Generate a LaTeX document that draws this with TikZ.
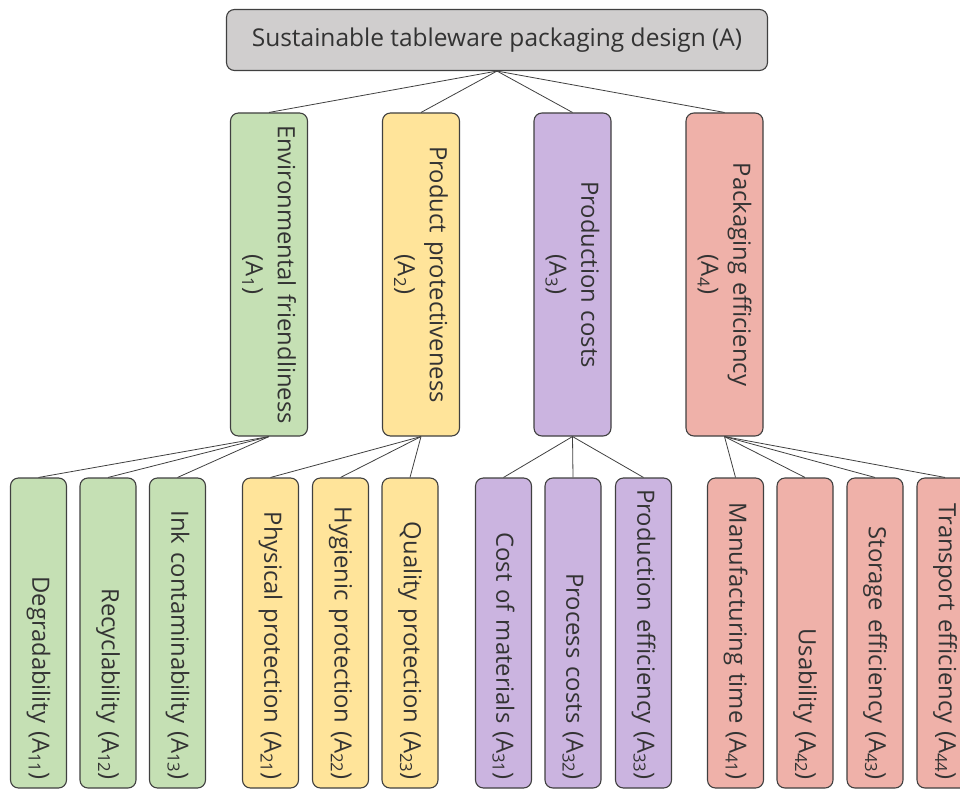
\documentclass[tikz,border=0pt]{standalone}
\usepackage{fontspec}
\setmainfont{Open Sans}
\usepackage{tikz}
\usetikzlibrary{positioning}
\usepackage{xcolor}
\definecolor{boxline}{HTML}{404040}
\definecolor{txtgray}{HTML}{333333}
\definecolor{topgray}{HTML}{D0CECE}
\definecolor{envgreen}{HTML}{C5E0B4}
\definecolor{protyellow}{HTML}{FFE49A}
\definecolor{costpurple}{HTML}{CBB4E0}
\definecolor{effred}{HTML}{EFB1A9}
\newcommand{\idx}[1]{\textsubscript{#1}}

\begin{document}
\begin{tikzpicture}[x=1pt, y=-1pt, text=txtgray, font=\fontsize{23.8}{32}\selectfont,
  goal/.style={draw=boxline, line width=1.1pt, fill=topgray, rounded corners=8pt,
    minimum width=541pt, minimum height=61pt, font=\fontsize{24.5}{29}\selectfont},
  crit/.style={draw=boxline, line width=1.1pt, rounded corners=8pt, rotate=-90,
    minimum width=323pt, minimum height=77pt, text width=310pt, align=center},
  leaf/.style={draw=boxline, line width=1.1pt, rounded corners=8pt, rotate=-90,
    inner xsep=8pt, minimum width=310pt, minimum height=56pt, text width=294pt, align=right},
  link/.style={draw=boxline, line width=0.8pt}]
  \useasboundingbox (0,0) rectangle (960,789);
  % Goal
  \node[goal] (top) at (497,40) {Sustainable tableware packaging design (A)};
  % Criteria (rotated: west = upper end, east = lower end)
  \node[crit, fill=envgreen]   (a1) at (269,274.5)   {Environmental friendliness\\(A\idx{1})};
  \node[crit, fill=protyellow] (a2) at (421,274.5)   {Product protectiveness\\(A\idx{2})};
  \node[crit, fill=costpurple] (a3) at (572.5,274.5) {Production costs\\(A\idx{3})};
  \node[crit, fill=effred]     (a4) at (724.5,274.5) {Packaging efficiency\\(A\idx{4})};
  % Sub-criteria of A1
  \node[leaf, fill=envgreen] (a11) at (38.5,633)  {Degradability (A\idx{11})};
  \node[leaf, fill=envgreen] (a12) at (108,633)   {Recyclability (A\idx{12})};
  \node[leaf, fill=envgreen] (a13) at (177.5,633) {Ink contaminability (A\idx{13})};
  % Sub-criteria of A2
  \node[leaf, fill=protyellow] (a21) at (270.5,633) {Physical protection (A\idx{21})};
  \node[leaf, fill=protyellow] (a22) at (340.5,633) {Hygienic protection (A\idx{22})};
  \node[leaf, fill=protyellow] (a23) at (410,633)   {Quality protection (A\idx{23})};
  % Sub-criteria of A3
  \node[leaf, fill=costpurple] (a31) at (503.5,633) {Cost of materials (A\idx{31})};
  \node[leaf, fill=costpurple] (a32) at (573,633)   {Process costs (A\idx{32})};
  \node[leaf, fill=costpurple] (a33) at (643.5,633) {Production efficiency (A\idx{33})};
  % Sub-criteria of A4
  \node[leaf, fill=effred] (a41) at (735.5,633) {Manufacturing time (A\idx{41})};
  \node[leaf, fill=effred] (a42) at (805,633)   {Usability (A\idx{42})};
  \node[leaf, fill=effred] (a43) at (875,633)   {Storage efficiency (A\idx{43})};
  \node[leaf, fill=effred] (a44) at (945,633)   {Transport efficiency (A\idx{44})};
  % Links
  \draw[link] (top.south) -- (a1.west);
  \draw[link] (top.south) -- (a2.west);
  \draw[link] (top.south) -- (a3.west);
  \draw[link] (top.south) -- (a4.west);
  \draw[link] (a1.east) -- (a11.west);
  \draw[link] (a1.east) -- (a12.west);
  \draw[link] (a1.east) -- (a13.west);
  \draw[link] (a2.east) -- (a21.west);
  \draw[link] (a2.east) -- (a22.west);
  \draw[link] (a2.east) -- (a23.west);
  \draw[link] (a3.east) -- (a31.west);
  \draw[link] (a3.east) -- (a32.west);
  \draw[link] (a3.east) -- (a33.west);
  \draw[link] (a4.east) -- (a41.west);
  \draw[link] (a4.east) -- (a42.west);
  \draw[link] (a4.east) -- (a43.west);
  \draw[link] (a4.east) -- (a44.west);
\end{tikzpicture}
\end{document}
